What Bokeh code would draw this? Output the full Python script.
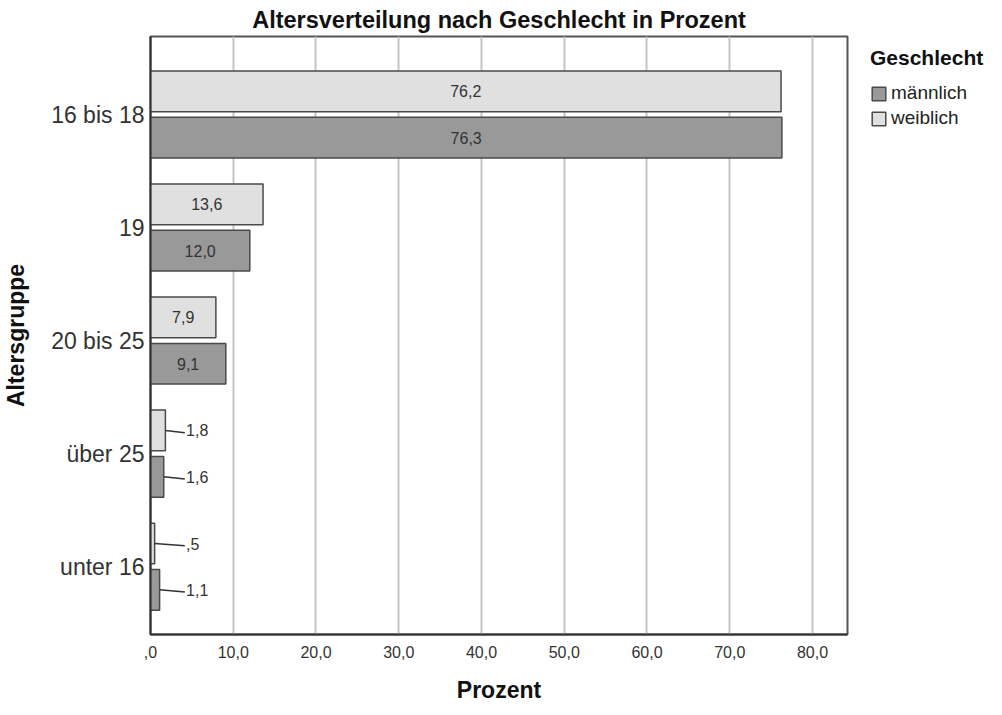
from bokeh.plotting import figure
from bokeh.models import (ColumnDataSource, Range1d, FixedTicker, CustomJSTickFormatter,
                          Legend, LegendItem)
from bokeh.core.properties import value
from bokeh.embed import file_html
from bokeh.resources import INLINE

# ---- data ----
categories = ["16 bis 18", "19", "20 bis 25", "über 25", "unter 16"]   # top to bottom
maennlich = [76.3, 12.0, 9.1, 1.6, 1.1]
weiblich = [76.2, 13.6, 7.9, 1.8, 0.5]
x_ticks = [0, 10, 20, 30, 40, 50, 60, 70, 80]

FONT_NAME = "Liberation Sans"
FONT = value(FONT_NAME)
n = len(categories)
pos = [n - i for i in range(n)]          # 5 .. 1
OFF = 0.205
BAR_H = 0.36
LABEL_X = 4.3
SMALL = 5.0


def fmt(v):
    s = f"{v:.1f}".replace(".", ",")
    if s.startswith("0,"):
        s = s[1:]
    return s


def make_src(vals, off):
    ys = [p + off for p in pos]
    lx = [v / 2 if v >= SMALL else LABEL_X for v in vals]
    al = ["center" if v >= SMALL else "left" for v in vals]
    return ColumnDataSource(dict(y=ys, v=vals, lx=lx, al=al, txt=[fmt(v) for v in vals]))


src_m = make_src(maennlich, -OFF)
src_w = make_src(weiblich, OFF)

p = figure(frame_width=697, frame_height=598, output_backend="svg", toolbar_location=None,
           x_range=Range1d(0, 84.23), y_range=Range1d(0.40, 5.69),
           min_border_left=150, min_border_right=138, min_border_top=32, min_border_bottom=0)

p.title.text = "Altersverteilung nach Geschlecht in Prozent"
p.title.align = "center"
p.title.text_font = FONT_NAME
p.title.text_font_size = "23.5px"
p.title.text_font_style = "bold"
p.title.text_color = "#111111"
p.title.standoff = 8

p.outline_line_color = "#555555"
p.outline_line_width = 2

r_m = p.hbar(y="y", right="v", left=0, height=BAR_H, source=src_m,
             fill_color="#999999", line_color="#4a4a4a", line_width=1.5)
r_w = p.hbar(y="y", right="v", left=0, height=BAR_H, source=src_w,
             fill_color="#e0e0e0", line_color="#4a4a4a", line_width=1.5)

for src, vals in ((src_m, maennlich), (src_w, weiblich)):
    d = src.data
    idx = [i for i, v in enumerate(vals) if v < SMALL]
    p.segment(x0=[d["v"][i] for i in idx], y0=[d["y"][i] for i in idx],
              x1=[LABEL_X - 0.15 for i in idx], y1=[d["y"][i] - 0.02 for i in idx],
              line_color="#333333", line_width=1.5)
    p.text(x="lx", y="y", text="txt", text_align="al", source=src,
           text_baseline="middle", text_font=FONT, text_font_size="16px",
           text_color="#333333")

# axes
p.xaxis.ticker = FixedTicker(ticks=x_ticks)
p.xaxis.formatter = CustomJSTickFormatter(
    code="var s = tick.toFixed(1).replace('.', ','); return s.startsWith('0,') ? s.slice(1) : s;")
p.xaxis.axis_label = "Prozent"
p.yaxis.ticker = FixedTicker(ticks=pos)
p.yaxis.major_label_overrides = {pv: c for pv, c in zip(pos, categories)}
p.yaxis.axis_label = "Altersgruppe"

for ax in (p.xaxis[0], p.yaxis[0]):
    ax.major_tick_line_color = None
    ax.minor_tick_line_color = None
    ax.axis_label_text_font = FONT_NAME
    ax.axis_label_text_font_style = "bold"
    ax.axis_label_text_font_size = "23px"
    ax.axis_label_text_color = "#111111"
    ax.major_label_text_font = FONT_NAME
    ax.major_label_text_color = "#333333"
    ax.axis_line_color = "#333333"
    ax.axis_line_width = 2

p.xaxis.major_label_text_font_size = "16px"
p.xaxis.major_label_standoff = 5
p.xaxis.axis_label_standoff = 16
p.yaxis.major_label_text_font_size = "23px"
p.yaxis.major_label_standoff = 0
p.yaxis.axis_label_standoff = 19

p.ygrid.grid_line_color = None
p.xgrid.ticker = FixedTicker(ticks=x_ticks[1:])
p.xgrid.grid_line_color = "#c4c4c4"
p.xgrid.grid_line_width = 2

# legend (outside, right of the frame)
legend = Legend(items=[LegendItem(label="männlich", renderers=[r_m]),
                       LegendItem(label="weiblich", renderers=[r_w])],
                title="Geschlecht", location=(23, 505), orientation="vertical",
                title_text_font=FONT_NAME, title_text_font_size="21px",
                title_text_font_style="bold", title_text_color="#111111", title_standoff=12,
                glyph_width=17, glyph_height=17, label_standoff=4, spacing=3,
                padding=0, margin=0, border_line_color=None, background_fill_alpha=0,
                label_text_font=FONT_NAME, label_text_font_size="19px", label_text_color="#222222")
p.add_layout(legend, "right")

open("out.html", "w").write(file_html(p, INLINE))
